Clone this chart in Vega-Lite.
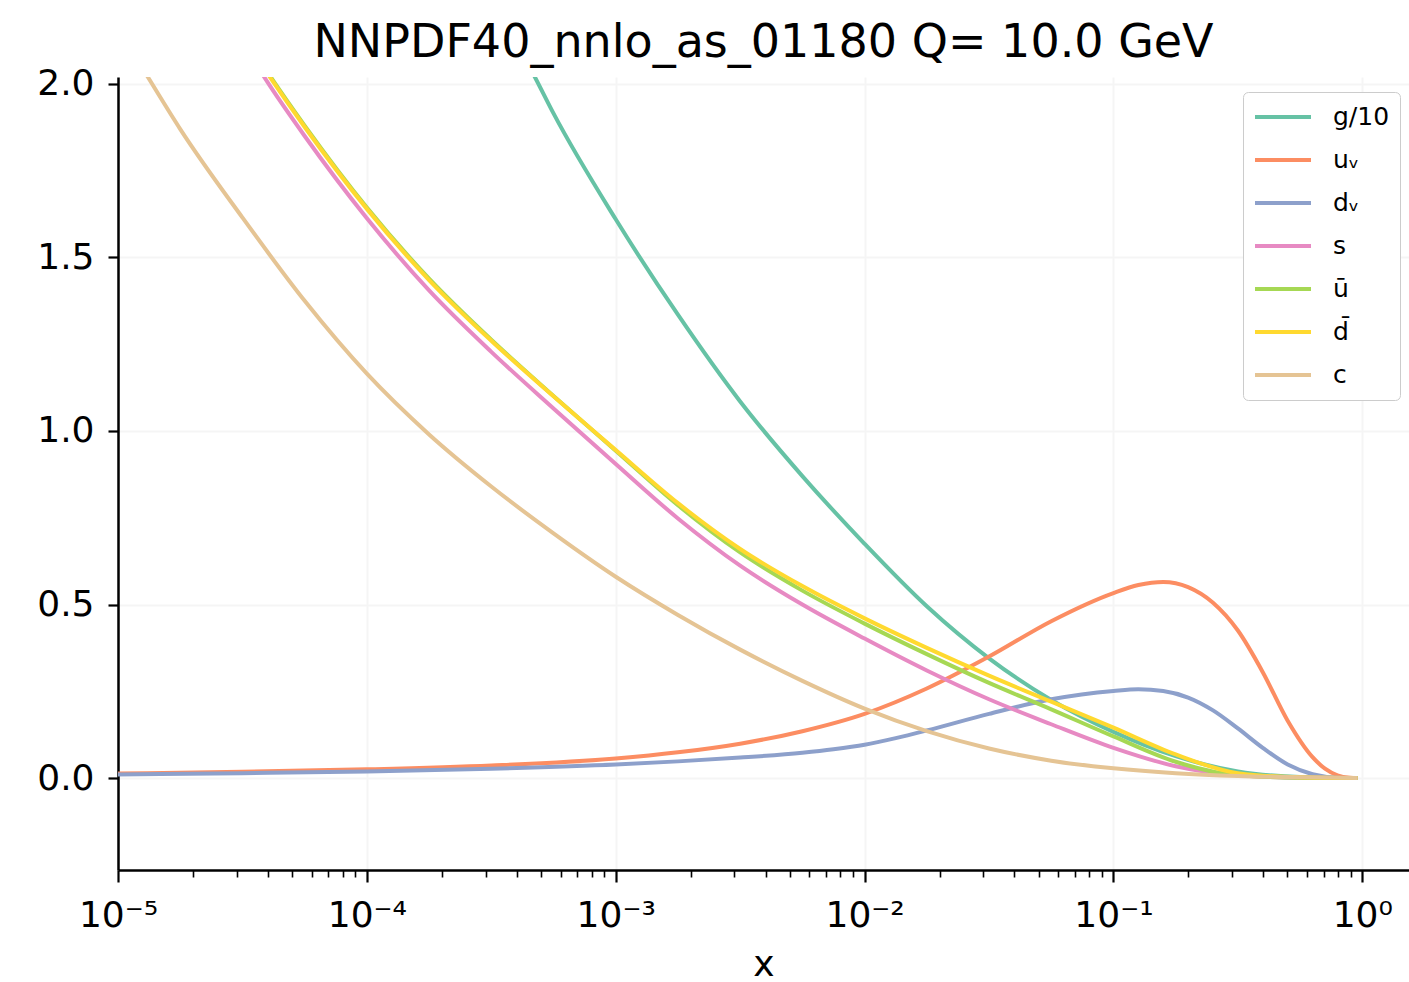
{
  "$schema": "https://vega.github.io/schema/vega-lite/v6.json",
  "width": 1291,
  "height": 793,
  "autosize": {"type": "none"},
  "padding": {"left": 118, "top": 77, "right": 0, "bottom": 112},
  "background": "white",
  "config": {"view": {"stroke": null}, "font": "DejaVu Sans"},
  "title": {"text": "NNPDF40_nnlo_as_01180 Q= 10.0 GeV", "fontSize": 46, "font": "DejaVu Sans", "fontWeight": "normal", "color": "black", "anchor": "middle", "baseline": "alphabetic", "offset": -37},
  "data": {"values": [
    {"pdf": "g/10", "x": 3.162e-4, "y": 2.25},
    {"pdf": "g/10", "x": 4.732e-4, "y": 2.02},
    {"pdf": "g/10", "x": 5.623e-4, "y": 1.915},
    {"pdf": "g/10", "x": 1e-3, "y": 1.61},
    {"pdf": "g/10", "x": 1.778e-3, "y": 1.335},
    {"pdf": "g/10", "x": 3.162e-3, "y": 1.085},
    {"pdf": "g/10", "x": 5.623e-3, "y": 0.87},
    {"pdf": "g/10", "x": 0.01, "y": 0.675},
    {"pdf": "g/10", "x": 0.01778, "y": 0.495},
    {"pdf": "g/10", "x": 0.03162, "y": 0.345},
    {"pdf": "g/10", "x": 0.05623, "y": 0.225},
    {"pdf": "g/10", "x": 0.1, "y": 0.133},
    {"pdf": "g/10", "x": 0.1778, "y": 0.063},
    {"pdf": "g/10", "x": 0.3162, "y": 0.019},
    {"pdf": "g/10", "x": 0.5623, "y": 0.003},
    {"pdf": "g/10", "x": 0.955, "y": 0},

    {"pdf": "uᵥ", "x": 1e-5, "y": 0.013},
    {"pdf": "uᵥ", "x": 3.162e-5, "y": 0.018},
    {"pdf": "uᵥ", "x": 1e-4, "y": 0.025},
    {"pdf": "uᵥ", "x": 3.162e-4, "y": 0.036},
    {"pdf": "uᵥ", "x": 1e-3, "y": 0.056},
    {"pdf": "uᵥ", "x": 1.778e-3, "y": 0.074},
    {"pdf": "uᵥ", "x": 3.162e-3, "y": 0.099},
    {"pdf": "uᵥ", "x": 5.623e-3, "y": 0.135},
    {"pdf": "uᵥ", "x": 0.01, "y": 0.185},
    {"pdf": "uᵥ", "x": 0.01778, "y": 0.258},
    {"pdf": "uᵥ", "x": 0.03162, "y": 0.35},
    {"pdf": "uᵥ", "x": 0.05623, "y": 0.452},
    {"pdf": "uᵥ", "x": 0.1, "y": 0.533},
    {"pdf": "uᵥ", "x": 0.1259, "y": 0.556},
    {"pdf": "uᵥ", "x": 0.1585, "y": 0.565},
    {"pdf": "uᵥ", "x": 0.1995, "y": 0.55},
    {"pdf": "uᵥ", "x": 0.2512, "y": 0.505},
    {"pdf": "uᵥ", "x": 0.3162, "y": 0.425},
    {"pdf": "uᵥ", "x": 0.3981, "y": 0.305},
    {"pdf": "uᵥ", "x": 0.5012, "y": 0.165},
    {"pdf": "uᵥ", "x": 0.6310, "y": 0.06},
    {"pdf": "uᵥ", "x": 0.7079, "y": 0.027},
    {"pdf": "uᵥ", "x": 0.7943, "y": 0.008},
    {"pdf": "uᵥ", "x": 0.8913, "y": 0.001},
    {"pdf": "uᵥ", "x": 0.955, "y": 0},

    {"pdf": "dᵥ", "x": 1e-5, "y": 0.010},
    {"pdf": "dᵥ", "x": 3.162e-5, "y": 0.014},
    {"pdf": "dᵥ", "x": 1e-4, "y": 0.019},
    {"pdf": "dᵥ", "x": 3.162e-4, "y": 0.027},
    {"pdf": "dᵥ", "x": 1e-3, "y": 0.039},
    {"pdf": "dᵥ", "x": 1.778e-3, "y": 0.048},
    {"pdf": "dᵥ", "x": 3.162e-3, "y": 0.059},
    {"pdf": "dᵥ", "x": 5.623e-3, "y": 0.073},
    {"pdf": "dᵥ", "x": 0.0075, "y": 0.083},
    {"pdf": "dᵥ", "x": 0.01, "y": 0.096},
    {"pdf": "dᵥ", "x": 0.01334, "y": 0.115},
    {"pdf": "dᵥ", "x": 0.01778, "y": 0.137},
    {"pdf": "dᵥ", "x": 0.03162, "y": 0.185},
    {"pdf": "dᵥ", "x": 0.05623, "y": 0.227},
    {"pdf": "dᵥ", "x": 0.1, "y": 0.251},
    {"pdf": "dᵥ", "x": 0.1259, "y": 0.256},
    {"pdf": "dᵥ", "x": 0.1585, "y": 0.251},
    {"pdf": "dᵥ", "x": 0.1995, "y": 0.232},
    {"pdf": "dᵥ", "x": 0.2512, "y": 0.195},
    {"pdf": "dᵥ", "x": 0.3162, "y": 0.143},
    {"pdf": "dᵥ", "x": 0.3981, "y": 0.087},
    {"pdf": "dᵥ", "x": 0.5012, "y": 0.039},
    {"pdf": "dᵥ", "x": 0.6310, "y": 0.011},
    {"pdf": "dᵥ", "x": 0.7943, "y": 0.001},
    {"pdf": "dᵥ", "x": 0.955, "y": 0},

    {"pdf": "s", "x": 3.162e-5, "y": 2.12},
    {"pdf": "s", "x": 4.074e-5, "y": 1.995},
    {"pdf": "s", "x": 5.623e-5, "y": 1.85},
    {"pdf": "s", "x": 1e-4, "y": 1.613},
    {"pdf": "s", "x": 1.778e-4, "y": 1.405},
    {"pdf": "s", "x": 3.162e-4, "y": 1.228},
    {"pdf": "s", "x": 5.623e-4, "y": 1.065},
    {"pdf": "s", "x": 1e-3, "y": 0.905},
    {"pdf": "s", "x": 1.778e-3, "y": 0.748},
    {"pdf": "s", "x": 3.162e-3, "y": 0.612},
    {"pdf": "s", "x": 5.623e-3, "y": 0.50},
    {"pdf": "s", "x": 0.01, "y": 0.402},
    {"pdf": "s", "x": 0.01778, "y": 0.31},
    {"pdf": "s", "x": 0.03162, "y": 0.227},
    {"pdf": "s", "x": 0.05623, "y": 0.155},
    {"pdf": "s", "x": 0.1, "y": 0.087},
    {"pdf": "s", "x": 0.1778, "y": 0.034},
    {"pdf": "s", "x": 0.3162, "y": 0.008},
    {"pdf": "s", "x": 0.5623, "y": 0.001},
    {"pdf": "s", "x": 0.955, "y": 0},

    {"pdf": "ū", "x": 3.162e-5, "y": 2.145},
    {"pdf": "ū", "x": 4.074e-5, "y": 2.024},
    {"pdf": "ū", "x": 5.623e-5, "y": 1.88},
    {"pdf": "ū", "x": 1e-4, "y": 1.644},
    {"pdf": "ū", "x": 1.778e-4, "y": 1.439},
    {"pdf": "ū", "x": 3.162e-4, "y": 1.263},
    {"pdf": "ū", "x": 5.623e-4, "y": 1.101},
    {"pdf": "ū", "x": 1e-3, "y": 0.943},
    {"pdf": "ū", "x": 1.778e-3, "y": 0.786},
    {"pdf": "ū", "x": 3.162e-3, "y": 0.65},
    {"pdf": "ū", "x": 5.623e-3, "y": 0.54},
    {"pdf": "ū", "x": 0.01, "y": 0.445},
    {"pdf": "ū", "x": 0.01778, "y": 0.357},
    {"pdf": "ū", "x": 0.03162, "y": 0.274},
    {"pdf": "ū", "x": 0.05623, "y": 0.198},
    {"pdf": "ū", "x": 0.1, "y": 0.12},
    {"pdf": "ū", "x": 0.1778, "y": 0.047},
    {"pdf": "ū", "x": 0.3162, "y": 0.008},
    {"pdf": "ū", "x": 0.5623, "y": 0.001},
    {"pdf": "ū", "x": 0.955, "y": 0},

    {"pdf": "d̄", "x": 3.162e-5, "y": 2.14},
    {"pdf": "d̄", "x": 4.074e-5, "y": 2.02},
    {"pdf": "d̄", "x": 5.623e-5, "y": 1.876},
    {"pdf": "d̄", "x": 1e-4, "y": 1.64},
    {"pdf": "d̄", "x": 1.778e-4, "y": 1.435},
    {"pdf": "d̄", "x": 3.162e-4, "y": 1.26},
    {"pdf": "d̄", "x": 5.623e-4, "y": 1.10},
    {"pdf": "d̄", "x": 1e-3, "y": 0.945},
    {"pdf": "d̄", "x": 1.778e-3, "y": 0.792},
    {"pdf": "d̄", "x": 3.162e-3, "y": 0.66},
    {"pdf": "d̄", "x": 5.623e-3, "y": 0.553},
    {"pdf": "d̄", "x": 0.01, "y": 0.46},
    {"pdf": "d̄", "x": 0.01778, "y": 0.375},
    {"pdf": "d̄", "x": 0.03162, "y": 0.295},
    {"pdf": "d̄", "x": 0.05623, "y": 0.22},
    {"pdf": "d̄", "x": 0.1, "y": 0.145},
    {"pdf": "d̄", "x": 0.1778, "y": 0.068},
    {"pdf": "d̄", "x": 0.3162, "y": 0.014},
    {"pdf": "d̄", "x": 0.5623, "y": 0.002},
    {"pdf": "d̄", "x": 0.955, "y": 0},

    {"pdf": "c", "x": 1e-5, "y": 2.16},
    {"pdf": "c", "x": 1.318e-5, "y": 2.02},
    {"pdf": "c", "x": 1.778e-5, "y": 1.87},
    {"pdf": "c", "x": 3.162e-5, "y": 1.615},
    {"pdf": "c", "x": 5.623e-5, "y": 1.375},
    {"pdf": "c", "x": 1e-4, "y": 1.165},
    {"pdf": "c", "x": 1.778e-4, "y": 0.99},
    {"pdf": "c", "x": 3.162e-4, "y": 0.84},
    {"pdf": "c", "x": 5.623e-4, "y": 0.705},
    {"pdf": "c", "x": 1e-3, "y": 0.58},
    {"pdf": "c", "x": 1.778e-3, "y": 0.47},
    {"pdf": "c", "x": 3.162e-3, "y": 0.37},
    {"pdf": "c", "x": 5.623e-3, "y": 0.28},
    {"pdf": "c", "x": 0.01, "y": 0.20},
    {"pdf": "c", "x": 0.01778, "y": 0.135},
    {"pdf": "c", "x": 0.03162, "y": 0.085},
    {"pdf": "c", "x": 0.05623, "y": 0.05},
    {"pdf": "c", "x": 0.1, "y": 0.028},
    {"pdf": "c", "x": 0.1778, "y": 0.014},
    {"pdf": "c", "x": 0.3162, "y": 0.006},
    {"pdf": "c", "x": 0.5623, "y": 0.002},
    {"pdf": "c", "x": 0.955, "y": 0}
  ]},
  "mark": {"type": "line", "strokeWidth": 4, "clip": true, "interpolate": "monotone"},
  "encoding": {
    "x": {
      "field": "x", "type": "quantitative",
      "scale": {"type": "log", "domain": [1e-5, 1.54], "nice": false},
      "axis": {
        "title": "x", "titleFontSize": 36, "titleFont": "DejaVu Sans", "titleFontWeight": "normal", "titleColor": "black", "titlePadding": 14,
        "values": [1e-5, 2e-5, 3e-5, 4e-5, 5e-5, 6e-5, 7e-5, 8e-5, 9e-5,
                   1e-4, 2e-4, 3e-4, 4e-4, 5e-4, 6e-4, 7e-4, 8e-4, 9e-4,
                   1e-3, 2e-3, 3e-3, 4e-3, 5e-3, 6e-3, 7e-3, 8e-3, 9e-3,
                   0.01, 0.02, 0.03, 0.04, 0.05, 0.06, 0.07, 0.08, 0.09,
                   0.1, 0.2, 0.3, 0.4, 0.5, 0.6, 0.7, 0.8, 0.9, 1],
        "labelExpr": "abs(log(datum.value)/LN10 - round(log(datum.value)/LN10)) > 0.001 ? '' : ['10⁻⁵','10⁻⁴','10⁻³','10⁻²','10⁻¹','10⁰'][round(log(datum.value)/LN10) + 5]",
        "labelFontSize": 36, "labelFont": "DejaVu Sans", "labelColor": "black", "labelPadding": 16,
        "labelFlush": false, "labelOverlap": false,
        "domainColor": "black", "domainWidth": 2.5,
        "tickColor": "black",
        "tickSize": {"condition": {"test": "abs(log(datum.value)/LN10 - round(log(datum.value)/LN10)) < 0.001", "value": 12}, "value": 7},
        "tickWidth": {"condition": {"test": "abs(log(datum.value)/LN10 - round(log(datum.value)/LN10)) < 0.001", "value": 2.2}, "value": 1.6},
        "grid": true, "gridColor": "#f5f5f5", "gridWidth": 2,
        "gridOpacity": {"condition": {"test": "abs(log(datum.value)/LN10 - round(log(datum.value)/LN10)) < 0.001", "value": 1}, "value": 0}
      }
    },
    "y": {
      "field": "y", "type": "quantitative",
      "scale": {"domain": [-0.265, 2.02], "nice": false, "zero": false},
      "axis": {
        "title": null, "values": [0, 0.5, 1, 1.5, 2], "format": ".1f",
        "labelFontSize": 36, "labelFont": "DejaVu Sans", "labelColor": "black", "labelPadding": 14,
        "tickSize": 10, "tickWidth": 2.2, "tickColor": "black",
        "domainColor": "black", "domainWidth": 2.5,
        "grid": true, "gridColor": "#f5f5f5", "gridWidth": 2
      }
    },
    "color": {
      "field": "pdf", "type": "nominal",
      "scale": {"domain": ["g/10", "uᵥ", "dᵥ", "s", "ū", "d̄", "c"],
                "range": ["#66c2a5", "#fc8d62", "#8da0cb", "#e78ac3", "#a6d854", "#ffd92f", "#e5c494"]},
      "legend": {
        "title": null, "orient": "none", "legendX": 1125, "legendY": 15,
        "symbolType": "stroke", "symbolSize": 3136, "symbolStrokeWidth": 4,
        "clipHeight": 30,
        "labelFontSize": 25, "labelFont": "DejaVu Sans", "labelColor": "black", "labelOffset": 20,
        "rowPadding": 13, "padding": 10,
        "strokeColor": "#cccccc", "fillColor": "white", "cornerRadius": 5, "labelLimit": 200
      }
    }
  }
}
